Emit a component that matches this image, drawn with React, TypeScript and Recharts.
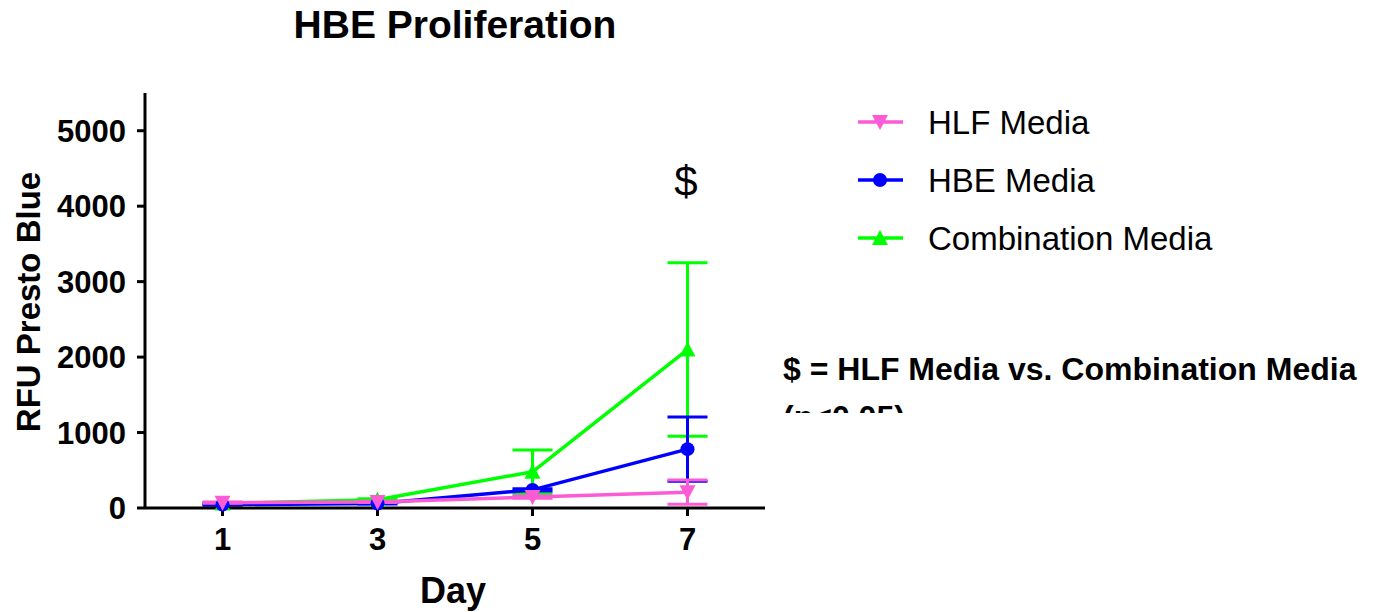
import { LineChart, Line, XAxis, YAxis, ErrorBar } from 'recharts';

// values
const days = [1, 3, 5, 7];
const hlfMean = [70, 80, 145, 210];
const hlfSem = [8, 8, 15, 160];
const hbeMean = [45, 60, 240, 780];
const hbeSem = [8, 8, 15, 425];
const comboMean = [60, 110, 480, 2100];
const comboSem = [8, 12, 290, 1150];

const yTicks = [0, 1000, 2000, 3000, 4000, 5000];
const xTicks = [1, 3, 5, 7];

const seriesNames = ['HLF Media', 'HBE Media', 'Combination Media'];
const seriesColors = ['#fb5bd5', '#0000ff', '#00ff00'];

const FONT = '"Liberation Sans", Arial, Helvetica, sans-serif';

const data = days.map((d, i) => ({
  day: d,
  hlf: hlfMean[i],
  hlfErr: hlfSem[i],
  hbe: hbeMean[i],
  hbeErr: hbeSem[i],
  combo: comboMean[i],
  comboErr: comboSem[i],
}));

const TriDown = ({ cx, cy, color }: any) => (
  <path d={`M${cx - 8},${cy - 7} L${cx + 8},${cy - 7} L${cx},${cy + 8} Z`} fill={color} />
);
const TriUp = ({ cx, cy, color }: any) => (
  <path d={`M${cx - 8},${cy + 7} L${cx + 8},${cy + 7} L${cx},${cy - 8} Z`} fill={color} />
);
const Circ = ({ cx, cy, color }: any) => <circle cx={cx} cy={cy} r={7} fill={color} />;

const markers = [TriDown, Circ, TriUp];

const makeDot = (Shape: any, color: string) => (p: any) =>
  <Shape key={`d-${p.index}`} cx={p.cx} cy={p.cy} color={color} />;

const tickStyle = { fontSize: 31, fontWeight: 700, fill: '#000', fontFamily: FONT };

export default function App() {
  return (
    <div style={{ position: 'absolute', left: 0, top: 0, width: 1373, height: 612, background: '#fff' }}>
      <LineChart
        width={1373}
        height={612}
        data={data}
        margin={{ top: 93, right: 608, bottom: 44, left: 65 }}
      >
        <XAxis
          dataKey="day"
          type="number"
          domain={[0, 8]}
          ticks={xTicks}
          height={60}
          axisLine={{ stroke: '#000', strokeWidth: 3 }}
          tickLine={{ stroke: '#000', strokeWidth: 3 }}
          tickSize={8}
          tickMargin={12}
          tick={tickStyle}
        />
        <YAxis
          type="number"
          domain={[0, 5500]}
          ticks={yTicks}
          width={80}
          axisLine={{ stroke: '#000', strokeWidth: 3 }}
          tickLine={{ stroke: '#000', strokeWidth: 3 }}
          tickSize={8}
          tickMargin={11}
          tick={tickStyle}
        />
        <Line
          dataKey="combo"
          type="linear"
          stroke={seriesColors[2]}
          strokeWidth={3.5}
          dot={makeDot(TriUp, seriesColors[2])}
          activeDot={false}
          isAnimationActive={false}
        >
          <ErrorBar dataKey="comboErr" direction="y" width={20} stroke={seriesColors[2]} strokeWidth={3} isAnimationActive={false} />
        </Line>
        <Line
          dataKey="hbe"
          type="linear"
          stroke={seriesColors[1]}
          strokeWidth={3.5}
          dot={makeDot(Circ, seriesColors[1])}
          activeDot={false}
          isAnimationActive={false}
        >
          <ErrorBar dataKey="hbeErr" direction="y" width={20} stroke={seriesColors[1]} strokeWidth={3} isAnimationActive={false} />
        </Line>
        <Line
          dataKey="hlf"
          type="linear"
          stroke={seriesColors[0]}
          strokeWidth={3.5}
          dot={makeDot(TriDown, seriesColors[0])}
          activeDot={false}
          isAnimationActive={false}
        >
          <ErrorBar dataKey="hlfErr" direction="y" width={20} stroke={seriesColors[0]} strokeWidth={3} isAnimationActive={false} />
        </Line>
      </LineChart>

      {/* titles, legend and note */}
      <svg
        width={1373}
        height={612}
        style={{ position: 'absolute', left: 0, top: 0, pointerEvents: 'none' }}
        fontFamily={FONT}
      >
        <defs>
          <clipPath id="noteClip">
            <rect x={770} y={340} width={603} height={73} />
          </clipPath>
        </defs>
        <text x={455} y={38} textAnchor="middle" fontSize={39} fontWeight={700}>
          HBE Proliferation
        </text>
        <text x={453} y={603} textAnchor="middle" fontSize={36} fontWeight={700}>
          Day
        </text>
        <text
          x={40}
          y={302}
          textAnchor="middle"
          fontSize={33}
          fontWeight={700}
          transform="rotate(-90 40 302)"
        >
          RFU Presto Blue
        </text>
        <text x={686} y={196} textAnchor="middle" fontSize={42}>
          $
        </text>

        {seriesNames.map((name, i) => {
          const y = 122 + i * 58;
          const Shape = markers[i];
          return (
            <g key={name}>
              <line x1={858} x2={903} y1={y} y2={y} stroke={seriesColors[i]} strokeWidth={3.5} />
              <Shape cx={880} cy={y} color={seriesColors[i]} />
              <text x={928} y={y + 12} fontSize={33}>
                {name}
              </text>
            </g>
          );
        })}

        <g clipPath="url(#noteClip)">
          <text x={783} y={380} fontSize={32} fontWeight={700}>
            $ = HLF Media vs. Combination Media
          </text>
          <text x={783} y={428} fontSize={32} fontWeight={700}>
            (p&lt;0.05)
          </text>
        </g>
      </svg>
    </div>
  );
}
